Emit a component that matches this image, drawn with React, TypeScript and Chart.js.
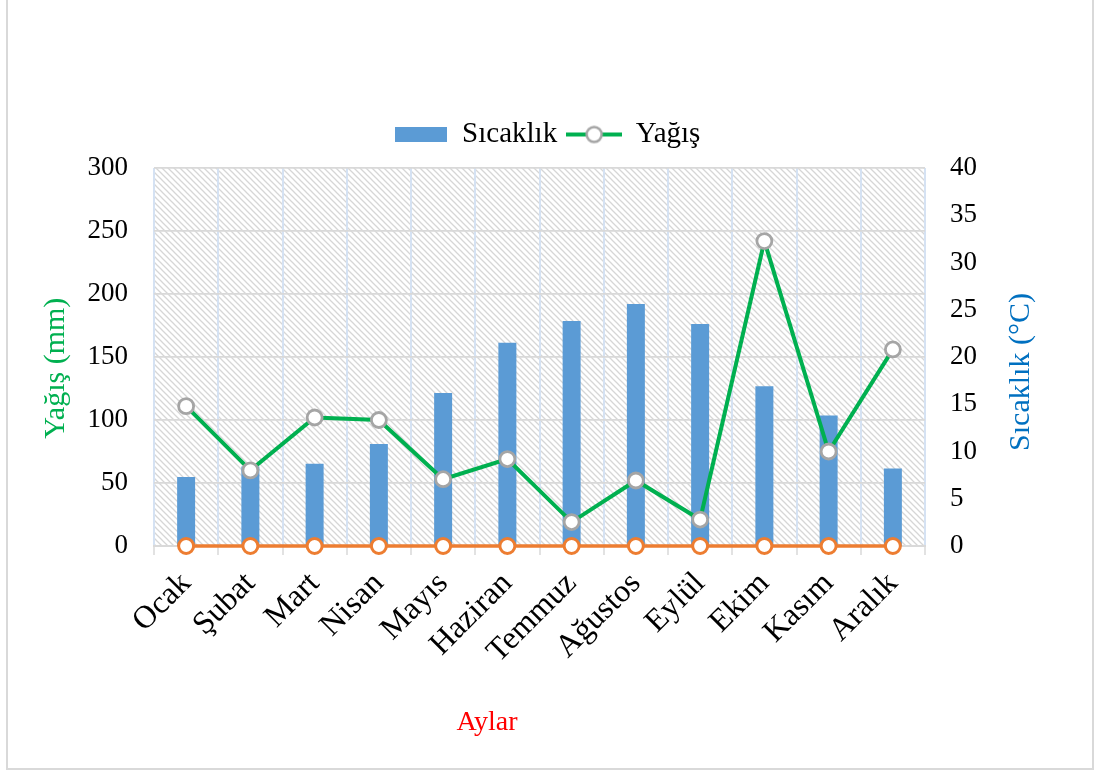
import React, { useEffect, useRef } from 'react';
import { Chart, registerables } from 'chart.js';

Chart.register(...registerables);

const FONT = "'Liberation Serif', 'Times New Roman', serif";

const months = ['Ocak', 'Şubat', 'Mart', 'Nisan', 'Mayıs', 'Haziran', 'Temmuz', 'Ağustos', 'Eylül', 'Ekim', 'Kasım', 'Aralık'];
const sicaklik = [7.3, 8.4, 8.7, 10.8, 16.2, 21.5, 23.8, 25.6, 23.5, 16.9, 13.8, 8.2];
const yagis = [111, 60, 102, 100, 53, 69, 19, 52, 21, 242, 75, 156];
const seri3 = [0, 0, 0, 0, 0, 0, 0, 0, 0, 0, 0, 0];

const seriesNames = ['Sıcaklık', 'Yağış', 'Seri 3'];
const leftTitle = 'Yağış (mm)';
const rightTitle = 'Sıcaklık (°C)';
const xTitle = 'Aylar';
const leftMax = 300;
const leftStep = 50;
const rightMax = 40;
const rightStep = 5;

const BLUE = '#5B9BD5';
const GREEN = '#00B050';
const ORANGE = '#ED7D31';
const GRAY_MARK = '#A5A5A5';

function makeHatch(): CanvasPattern | string {
  const c = document.createElement('canvas');
  c.width = 6;
  c.height = 6;
  const g = c.getContext('2d');
  if (!g) return '#f4f4f4';
  g.fillStyle = '#ffffff';
  g.fillRect(0, 0, 6, 6);
  g.strokeStyle = '#d6d6d6';
  g.lineWidth = 1.3;
  g.beginPath();
  g.moveTo(-1, -1); g.lineTo(7, 7);
  g.moveTo(-1, 5); g.lineTo(1, 7);
  g.moveTo(5, -1); g.lineTo(7, 1);
  g.stroke();
  const p = g.createPattern(c, 'repeat');
  return p || '#f4f4f4';
}

function makeBarSymbol(): HTMLCanvasElement {
  const c = document.createElement('canvas');
  c.width = 52;
  c.height = 15;
  const g = c.getContext('2d')!;
  g.fillStyle = BLUE;
  g.fillRect(0, 0, 52, 15);
  return c;
}

function makeLineSymbol(): HTMLCanvasElement {
  const c = document.createElement('canvas');
  c.width = 56;
  c.height = 20;
  const g = c.getContext('2d')!;
  g.strokeStyle = GREEN;
  g.lineWidth = 4;
  g.beginPath();
  g.moveTo(0, 10);
  g.lineTo(56, 10);
  g.stroke();
  g.beginPath();
  g.arc(28, 10, 7.5, 0, Math.PI * 2);
  g.fillStyle = '#ffffff';
  g.fill();
  g.lineWidth = 2.5;
  g.strokeStyle = GRAY_MARK;
  g.stroke();
  return c;
}

export default function App() {
  const ref = useRef<HTMLCanvasElement | null>(null);

  useEffect(() => {
    if (!ref.current) return;
    const hatch = makeHatch();
    const barSym = makeBarSymbol();
    const lineSym = makeLineSymbol();

    const bgPlugin = {
      id: 'hatchBg',
      beforeDraw(chart: any) {
        const { ctx, chartArea } = chart;
        if (!chartArea) return;
        ctx.save();
        ctx.fillStyle = hatch;
        ctx.fillRect(chartArea.left, chartArea.top, chartArea.right - chartArea.left, chartArea.bottom - chartArea.top);
        ctx.restore();
      },
    };

    const rightTitlePlugin = {
      id: 'rightTitle',
      afterDraw(chart: any) {
        const s = chart.scales.y1;
        const ctx = chart.ctx;
        ctx.save();
        ctx.font = `30px ${FONT}`;
        ctx.fillStyle = '#0070C0';
        ctx.textAlign = 'center';
        ctx.textBaseline = 'middle';
        ctx.translate(s.right - 73, (s.top + s.bottom) / 2 + 15);
        ctx.rotate(-Math.PI / 2);
        ctx.fillText(rightTitle, 0, 0);
        ctx.restore();
      },
    };

    const chart = new Chart(ref.current, {
      type: 'bar',
      data: {
        labels: months,
        datasets: [
          {
            type: 'bar',
            label: seriesNames[0],
            data: sicaklik,
            yAxisID: 'y1',
            backgroundColor: BLUE,
            barPercentage: 0.28,
            categoryPercentage: 1,
            order: 3,
          },
          {
            type: 'line',
            label: seriesNames[1],
            data: yagis,
            yAxisID: 'y',
            borderColor: GREEN,
            borderWidth: 4,
            pointRadius: 7.5,
            pointBackgroundColor: '#ffffff',
            pointBorderColor: GRAY_MARK,
            pointBorderWidth: 2.8,
            tension: 0,
            clip: false,
            order: 1,
          },
          {
            type: 'line',
            label: seriesNames[2],
            data: seri3,
            yAxisID: 'y',
            borderColor: ORANGE,
            borderWidth: 3.5,
            pointRadius: 7.5,
            pointBackgroundColor: '#ffffff',
            pointBorderColor: ORANGE,
            pointBorderWidth: 3,
            tension: 0,
            clip: false,
            order: 2,
          },
        ] as any,
      },
      options: {
        responsive: false,
        animation: false,
        devicePixelRatio: 1,
        layout: { padding: { top: 110, left: 0, right: 0, bottom: 0 } },
        plugins: {
          tooltip: { enabled: false },
          legend: {
            display: true,
            position: 'top',
            labels: {
              usePointStyle: true,
              pointStyleWidth: 54,
              padding: 10,
              color: '#000',
              font: { family: FONT, size: 29 },
              generateLabels: () => [
                { text: seriesNames[0], pointStyle: barSym, fillStyle: BLUE, strokeStyle: BLUE, lineWidth: 0, hidden: false, datasetIndex: 0, fontColor: '#000' },
                { text: seriesNames[1], pointStyle: lineSym, fillStyle: '#fff', strokeStyle: GREEN, lineWidth: 0, hidden: false, datasetIndex: 1, fontColor: '#000' },
              ] as any,
            },
          },
          subtitle: {
            display: true,
            text: '',
            position: 'top',
            weight: 500,
            padding: 0,
            font: { size: 9, lineHeight: 1 },
          } as any,
        },
        scales: {
          x: {
            offset: true,
            grid: {
              offset: true,
              color: '#D5E2F3',
              lineWidth: 2,
              drawTicks: true,
              tickLength: 9,
              tickColor: '#D9D9D9',
              tickWidth: 1.5,
            },
            border: { display: true, color: '#D9D9D9', width: 2 },
            ticks: {
              color: '#000',
              font: { family: FONT, size: 32 },
              maxRotation: 45,
              minRotation: 45,
              padding: 10,
              autoSkip: false,
            },
            title: {
              display: true,
              text: xTitle + '               ',
              color: '#FF0000',
              font: { family: FONT, size: 28 },
              padding: { top: 0, bottom: 32 },
            },
            afterFit: (s: any) => { s.height = 225; },
          },
          y: {
            position: 'left',
            min: 0,
            max: leftMax,
            ticks: {
              stepSize: leftStep,
              color: '#000',
              padding: 26,
              font: { family: FONT, size: 27 },
            },
            grid: { color: '#D9D9D9', lineWidth: 1.8, drawTicks: false },
            border: { display: false },
            title: {
              display: true,
              text: leftTitle + '   ',
              color: GREEN,
              font: { family: FONT, size: 30 },
              padding: { top: 38, bottom: 0 },
            },
            afterFit: (s: any) => { s.width = 154; },
          },
          y1: {
            position: 'right',
            min: 0,
            max: rightMax,
            ticks: {
              stepSize: rightStep,
              color: '#000',
              padding: 25,
              font: { family: FONT, size: 27 },
            },
            grid: { display: false, drawTicks: false },
            border: { display: false },
            afterFit: (s: any) => { s.width = 169; },
          },
        },
      } as any,
      plugins: [bgPlugin, rightTitlePlugin],
    });

    return () => chart.destroy();
  }, []);

  return (
    <div style={{ position: 'absolute', left: 0, top: 0, width: 1094, height: 771, background: '#fff' }}>
      <canvas ref={ref} width={1094} height={771} style={{ position: 'absolute', left: 0, top: 0, width: 1094, height: 771 }} />
      <div
        style={{
          position: 'absolute',
          left: 6,
          top: -2,
          width: 1088,
          height: 772,
          border: '2px solid #D9D9D9',
          boxSizing: 'border-box',
          pointerEvents: 'none',
        }}
      />
    </div>
  );
}
